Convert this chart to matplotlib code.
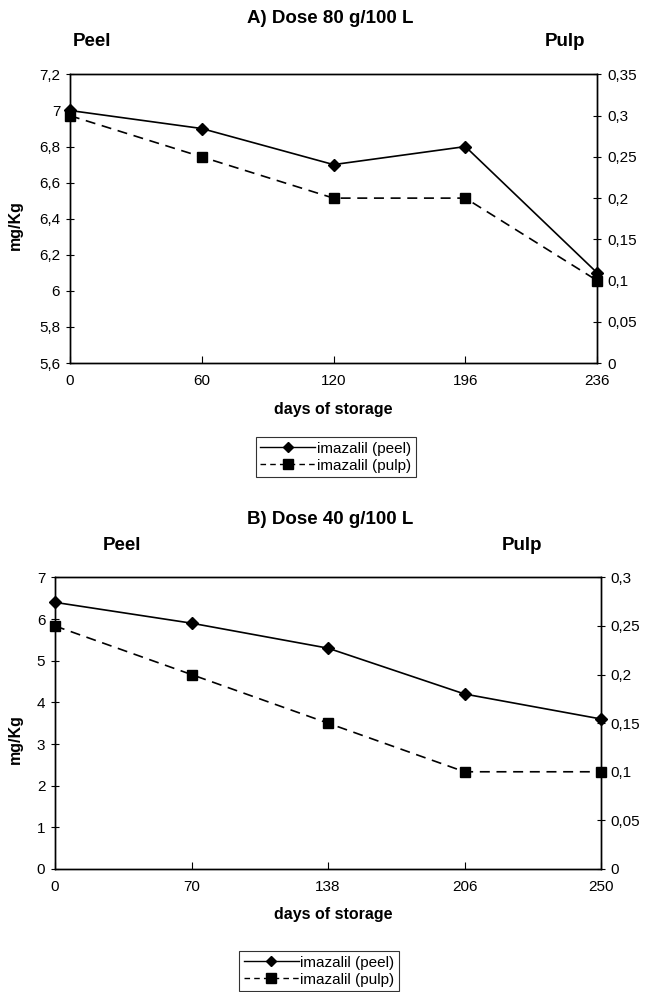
import matplotlib
matplotlib.use("Agg")
import matplotlib.pyplot as plt
from matplotlib.lines import Line2D

plt.rcParams['font.family'] = ['Liberation Sans', 'DejaVu Sans']

# Panel A data
days_a = ["0", "60", "120", "196", "236"]
peel_a = [7.0, 6.9, 6.7, 6.8, 6.1]
pulp_a = [0.3, 0.25, 0.2, 0.2, 0.1]
left_ticks_a = [5.6, 5.8, 6.0, 6.2, 6.4, 6.6, 6.8, 7.0, 7.2]
right_ticks_a = [0, 0.05, 0.1, 0.15, 0.2, 0.25, 0.3, 0.35]

# Panel B data
days_b = ["0", "70", "138", "206", "250"]
peel_b = [6.4, 5.9, 5.3, 4.2, 3.6]
pulp_b = [0.25, 0.2, 0.15, 0.1, 0.1]
left_ticks_b = [0, 1, 2, 3, 4, 5, 6, 7]
right_ticks_b = [0, 0.05, 0.1, 0.15, 0.2, 0.25, 0.3]


def fmt(v):
    s = ("%g" % v)
    return s.replace('.', ',')


fig = plt.figure(figsize=(6.47, 9.92), dpi=100)


def panel(rect, days, peel, pulp, lticks, rticks, title, title_y, peel_x, pulp_x, lab_y,
          ylab_y, xlab_y, leg_x, leg_y):
    ax = fig.add_axes(rect)
    x = list(range(len(days)))
    ax.plot(x, peel, color='black', lw=1.2, marker='D', ms=6.5, clip_on=False, zorder=3)
    ax.set_xlim(0, len(days) - 1)
    ax.set_ylim(lticks[0], lticks[-1])
    ax.set_yticks(lticks)
    ax.set_yticklabels([fmt(v) for v in lticks], fontsize=11)
    ax.set_xticks(x)
    ax.set_xticklabels(days, fontsize=11)
    ax.tick_params(axis='y', direction='inout', length=6, width=0.8, pad=4)
    ax.tick_params(axis='x', direction='in', length=5, width=0.8, pad=8)
    ax2 = ax.twinx()
    ax2.plot(x, pulp, color='black', lw=1.2, ls=(0, (6, 4)), marker='s', ms=7.5, clip_on=False, zorder=3)
    ax2.set_ylim(rticks[0], rticks[-1])
    ax2.set_yticks(rticks)
    ax2.set_yticklabels([fmt(v) for v in rticks], fontsize=11)
    ax2.tick_params(axis='y', direction='inout', length=6, width=0.8, pad=4)
    for a in (ax, ax2):
        for s in a.spines.values():
            s.set_linewidth(1.0)
            s.set_color('black')
    fig.text(0.51, title_y, title, ha='center', va='center', fontsize=13.5, fontweight='bold')
    fig.text(peel_x, lab_y, "Peel", ha='center', va='center', fontsize=13.5, fontweight='bold')
    fig.text(pulp_x, lab_y, "Pulp", ha='center', va='center', fontsize=13.5, fontweight='bold')
    fig.text(0.024, ylab_y, "mg/Kg", ha='center', va='center', rotation=90, fontsize=11.5, fontweight='bold')
    fig.text(0.515, xlab_y, "days of storage", ha='center', va='center', fontsize=11.5, fontweight='bold')
    h1 = Line2D([], [], color='black', lw=1.0, marker='D', ms=5.5)
    h2 = Line2D([], [], color='black', lw=1.0, ls=(0, (4, 3)), marker='s', ms=6.5)
    leg = fig.legend([h1, h2], ["imazalil (peel)", "imazalil (pulp)"], loc='center',
                     bbox_to_anchor=(leg_x, leg_y), fontsize=11, frameon=True, fancybox=False,
                     edgecolor='black', handlelength=3.6, handletextpad=0.1, borderpad=0.3,
                     labelspacing=0.2, borderaxespad=0)
    leg.get_frame().set_linewidth(0.8)
    return ax, ax2


panel([0.108, 0.634, 0.815, 0.291], days_a, peel_a, pulp_a, left_ticks_a, right_ticks_a,
      "A) Dose 80 g/100 L", 0.981, 0.142, 0.873, 0.958, 0.773, 0.587, 0.519, 0.539)
panel([0.085, 0.124, 0.844, 0.294], days_b, peel_b, pulp_b, left_ticks_b, right_ticks_b,
      "B) Dose 40 g/100 L", 0.476, 0.189, 0.807, 0.450, 0.255, 0.078, 0.493, 0.021)

fig.savefig("out.png", dpi=100)
